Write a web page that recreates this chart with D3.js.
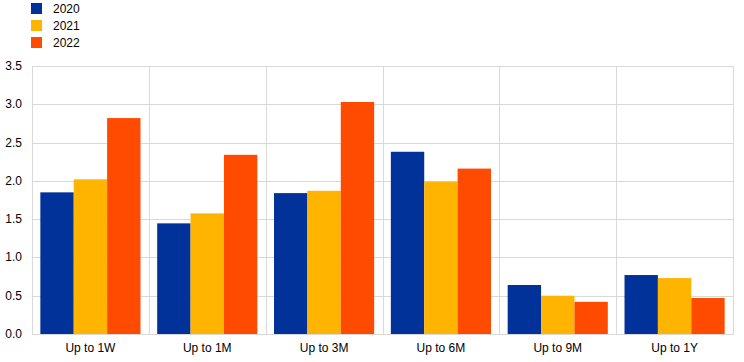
<!DOCTYPE html>
<html>
<head>
<meta charset="utf-8">
<script src="https://cdn.jsdelivr.net/npm/d3@7"></script>
<style>
  body { margin: 0; background: #fff; }
  text { font-family: "Liberation Sans", Arial, sans-serif; font-size: 12px; fill: #000; }
</style>
</head>
<body>
<svg width="744" height="362"></svg>
<script>
var categories = ["Up to 1W", "Up to 1M", "Up to 3M", "Up to 6M", "Up to 9M", "Up to 1Y"];
var seriesNames = ["2020", "2021", "2022"];
var values2020 = [1.85, 1.445, 1.84, 2.38, 0.64, 0.77];
var values2021 = [2.02, 1.575, 1.87, 1.99, 0.50, 0.73];
var values2022 = [2.82, 2.34, 3.03, 2.16, 0.42, 0.47];
var yTicks = [0, 0.5, 1.0, 1.5, 2.0, 2.5, 3.0, 3.5];
var colors = ["#003299", "#ffb400", "#ff4b00"];

var series = [values2020, values2021, values2022];

var svg = d3.select("svg"),
  plotLeft = 32, plotRight = 733, plotTop = 66, plotBottom = 334;

var x = d3.scaleBand().domain(categories).range([plotLeft, plotRight]).paddingInner(0).paddingOuter(0);
var x1 = d3.scaleBand().domain(seriesNames).range([0, x.bandwidth()]).paddingOuter(0.25);
var y = d3.scaleLinear().domain([0, 3.5]).range([plotBottom, plotTop]);

// horizontal grid
svg.append("g").selectAll("line")
  .data(yTicks)
  .enter()
  .append("line")
  .attr("x1", plotLeft).attr("x2", plotRight)
  .attr("y1", function (d) { return Math.round(y(d)) + 0.5; })
  .attr("y2", function (d) { return Math.round(y(d)) + 0.5; })
  .attr("stroke", "#d9d9d9");

// vertical dividers between categories + right edge
var dividers = categories.slice(1).map(function (c) { return x(c); }).concat([plotRight]);
svg.append("g").selectAll("line")
  .data(dividers)
  .enter()
  .append("line")
  .attr("x1", function (d) { return Math.round(d) + 0.5; })
  .attr("x2", function (d) { return Math.round(d) + 0.5; })
  .attr("y1", plotTop).attr("y2", plotBottom)
  .attr("stroke", "#d9d9d9");

// bars
var groups = svg.append("g").selectAll("g")
  .data(categories)
  .enter()
  .append("g")
  .attr("transform", function (d) { return "translate(" + x(d) + ",0)"; });

groups.selectAll("rect")
  .data(function (d, i) {
    return seriesNames.map(function (s, j) { return { key: s, value: series[j][i], color: colors[j] }; });
  })
  .enter()
  .append("rect")
  .attr("x", function (d) { return x1(d.key); })
  .attr("width", x1.bandwidth())
  .attr("y", function (d) { return y(d.value); })
  .attr("height", function (d) { return plotBottom - y(d.value); })
  .attr("fill", function (d) { return d.color; });

// axis lines
svg.append("line")
  .attr("x1", plotLeft + 0.5).attr("x2", plotLeft + 0.5)
  .attr("y1", plotTop).attr("y2", plotBottom)
  .attr("stroke", "#d9d9d9");
svg.append("line")
  .attr("x1", plotLeft).attr("x2", plotRight + 1)
  .attr("y1", plotBottom + 0.5).attr("y2", plotBottom + 0.5)
  .attr("stroke", "#d9d9d9");

// y labels
svg.append("g").selectAll("text")
  .data(yTicks)
  .enter()
  .append("text")
  .attr("x", 22)
  .attr("y", function (d) { return y(d) + 4; })
  .attr("text-anchor", "end")
  .text(function (d) { return d3.format(".1f")(d); });

// x labels
svg.append("g").selectAll("text")
  .data(categories)
  .enter()
  .append("text")
  .attr("x", function (d) { return x(d) + x.bandwidth() / 2; })
  .attr("y", 352)
  .attr("text-anchor", "middle")
  .text(function (d) { return d; });

// legend
var legend = svg.append("g").selectAll("g")
  .data(seriesNames)
  .enter()
  .append("g")
  .attr("transform", function (d, i) { return "translate(31," + (3 + i * 17) + ")"; });
legend.append("rect")
  .attr("width", 11).attr("height", 11)
  .attr("fill", function (d, i) { return colors[i]; });
legend.append("text")
  .attr("x", 22).attr("y", 10)
  .text(function (d) { return d; });
</script>
</body>
</html>
